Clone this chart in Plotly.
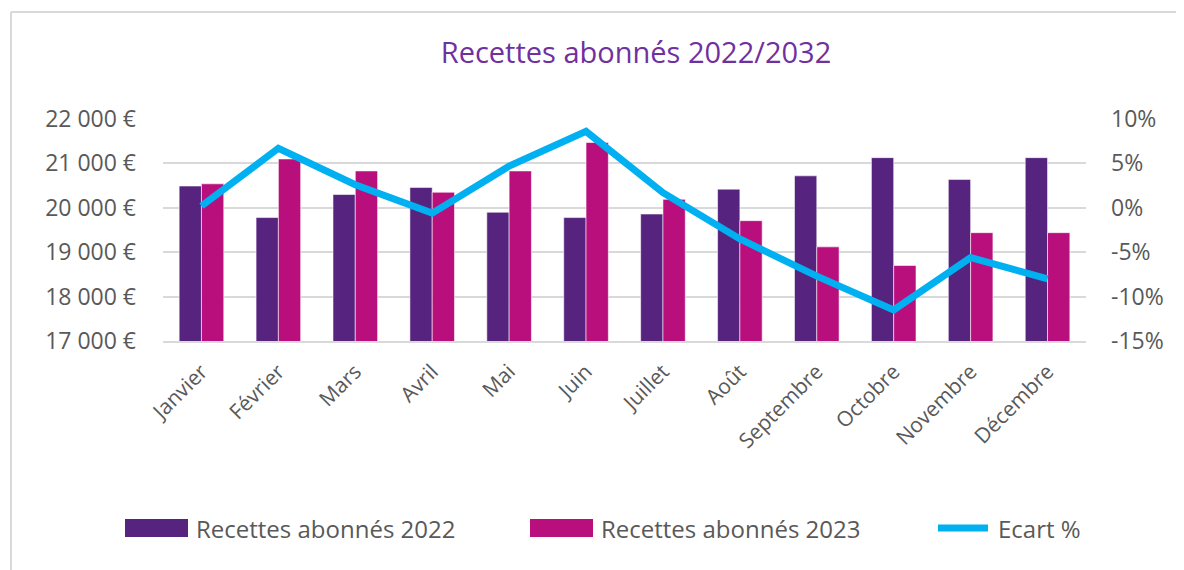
import plotly.graph_objects as go

mois = ["Janvier", "Février", "Mars", "Avril", "Mai", "Juin", "Juillet",
        "Août", "Septembre", "Octobre", "Novembre", "Décembre"]
recettes_2022 = [20490, 19780, 20300, 20460, 19900, 19780, 19860, 20420, 20720, 21130, 20640, 21130]
recettes_2023 = [20540, 21100, 20830, 20350, 20830, 21470, 20190, 19710, 19120, 18700, 19440, 19440]
ecart = [0.002, 0.067, 0.026, -0.006, 0.047, 0.086, 0.017, -0.035, -0.077, -0.115, -0.056, -0.080]

y_ticks = [17000, 18000, 19000, 20000, 21000, 22000]
y_labels = ["17 000 €", "18 000 €", "19 000 €", "20 000 €", "21 000 €", "22 000 €"]
y2_ticks = [-0.15, -0.10, -0.05, 0.0, 0.05, 0.10]
y2_labels = ["-15%", "-10%", "-5%", "0%", "5%", "10%"]

noms = ["Recettes abonnés 2022", "Recettes abonnés 2023", "Ecart %"]
violet = "#56237E"
magenta = "#B80F7D"
bleu = "#00B0F0"
gris = "#595959"
grille = "#D9D9D9"
FONT = "Open Sans"

fig = go.Figure()
fig.add_trace(go.Bar(x=mois, y=recettes_2022, name=noms[0], marker=dict(color=violet, line=dict(color="rgba(255,255,255,0.7)", width=0.8))))
fig.add_trace(go.Bar(x=mois, y=recettes_2023, name=noms[1], marker=dict(color=magenta, line=dict(color="rgba(255,255,255,0.7)", width=0.8))))
fig.add_trace(go.Scatter(x=mois, y=ecart, name=noms[2], yaxis="y2", mode="lines",
                         line=dict(color=bleu, width=7, shape="linear")))

# the page adds an 8px body margin, so work in screen pixels minus 8
OFF = 8
# plot area on screen: x 163..1086, y 119..341
L, R, T, B = 163 - OFF, 1086 - OFF, 119 - OFF, 341 - OFF
W, H = R - L, B - T
def px(x):
    return (x - OFF - L) / W
def py(y):
    return (B - (y - OFF)) / H

shapes = []
annotations = []
# frame (left and top edge only, as in the cropped screenshot)
shapes.append(dict(type="line", xref="paper", yref="paper", x0=px(11), x1=px(11), y0=py(12), y1=py(590),
                   line=dict(color=grille, width=2)))
shapes.append(dict(type="line", xref="paper", yref="paper", x0=px(11), x1=px(1200), y0=py(12), y1=py(12),
                   line=dict(color=grille, width=2)))

# custom legend
leg_y = 528
for x0, col, nom in [(125, violet, noms[0]), (530, magenta, noms[1])]:
    shapes.append(dict(type="rect", xref="paper", yref="paper", x0=px(x0), x1=px(x0 + 63),
                       y0=py(leg_y - 9), y1=py(leg_y + 9), fillcolor=col, line=dict(width=0)))
    annotations.append(dict(xref="paper", yref="paper", x=px(x0 + 69), y=py(leg_y), text=nom,
                            showarrow=False, xanchor="left", yanchor="middle",
                            font=dict(family=FONT, size=24, color=gris)))
shapes.append(dict(type="line", xref="paper", yref="paper", x0=px(938), x1=px(988), y0=py(leg_y), y1=py(leg_y),
                   line=dict(color=bleu, width=7)))
annotations.append(dict(xref="paper", yref="paper", x=px(996), y=py(leg_y), text=noms[2],
                        showarrow=False, xanchor="left", yanchor="middle",
                        font=dict(family=FONT, size=24, color=gris)))

fig.update_layout(
    width=1184, height=570,
    margin=dict(l=L, r=1184 - R, t=T, b=570 - B),
    paper_bgcolor="white", plot_bgcolor="white",
    title=dict(text="Recettes abonnés 2022/2032", xref="paper", x=px(636), xanchor="center",
               yref="container", y=1 - (53 - OFF) / 570, yanchor="middle",
               font=dict(family=FONT, size=29, color="#7030A0")),
    barmode="group", bargap=0.42, bargroupgap=0,
    showlegend=False,
    font=dict(family=FONT, color=gris),
    xaxis=dict(tickangle=-45, tickfont=dict(family=FONT, size=21, color=gris),
               showline=True, linecolor=grille, linewidth=2, ticks="", ticklabelstandoff=8),
    yaxis=dict(range=[17000, 22000], tickvals=y_ticks, ticktext=y_labels,
               showgrid=True, gridcolor=grille, gridwidth=2, zeroline=False,
               tickfont=dict(family=FONT, size=23, color=gris), ticklabelstandoff=26),
    yaxis2=dict(range=[-0.15, 0.10], tickvals=y2_ticks, ticktext=y2_labels, overlaying="y", side="right",
                showgrid=False, zeroline=False,
                tickfont=dict(family=FONT, size=23, color=gris), ticklabelstandoff=24),
    shapes=shapes,
    annotations=annotations,
)

fig.write_html("out.html")
